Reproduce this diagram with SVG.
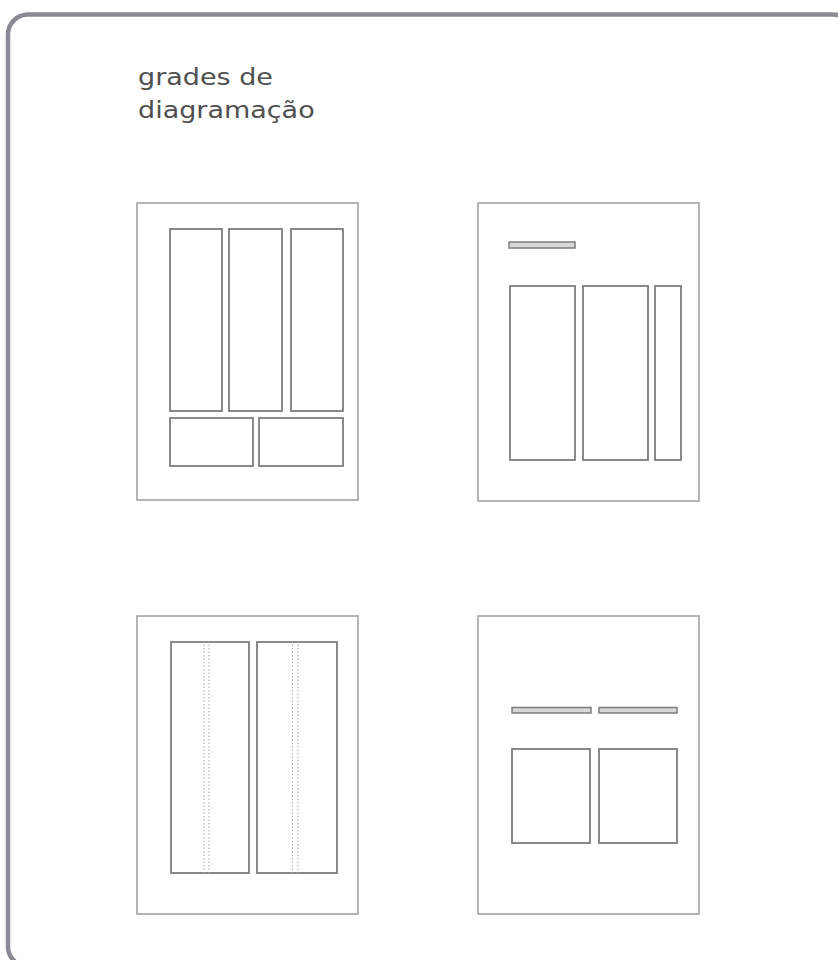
<svg xmlns="http://www.w3.org/2000/svg" width="838" height="960" viewBox="0 0 838 960">
  <style>
    .frame { fill: #ffffff; stroke: #8a8a95; stroke-width: 4.5; }
    .page { fill: #ffffff; stroke: #a3a3a3; stroke-width: 1.6; }
    .box { fill: #ffffff; stroke: #7d7d7d; stroke-width: 1.8; }
    .bar { fill: #d8d8d8; stroke: #7d7d7d; stroke-width: 1.5; }
    .dots { stroke: #a8a8a8; stroke-width: 1; stroke-dasharray: 1.5 2; fill: none; }
    .title { font-family: "DejaVu Sans", Verdana, sans-serif; font-size: 22.5px; fill: #505050; }
  </style>
  <rect x="0" y="0" width="838" height="960" fill="#ffffff"/>
  <rect class="frame" x="8" y="14.5" width="845" height="952" rx="20" ry="20"/>

  <g id="title" transform="translate(138,0) scale(1.2,1)">
    <text class="title" x="0" y="85.5">grades de</text>
    <text class="title" x="0" y="118.5">diagramação</text>
  </g>

  <g id="page1">
    <rect class="page" x="137" y="203" width="221" height="297"/>
    <rect class="box" x="170" y="229" width="52" height="182"/>
    <rect class="box" x="229" y="229" width="53" height="182"/>
    <rect class="box" x="291" y="229" width="52" height="182"/>
    <rect class="box" x="170" y="418" width="83" height="48"/>
    <rect class="box" x="259" y="418" width="84" height="48"/>
  </g>

  <g id="page2">
    <rect class="page" x="478" y="203" width="221" height="298"/>
    <rect class="bar" x="509" y="242" width="66" height="6"/>
    <rect class="box" x="510" y="286" width="65" height="174"/>
    <rect class="box" x="583" y="286" width="65" height="174"/>
    <rect class="box" x="655" y="286" width="26" height="174"/>
  </g>

  <g id="page3">
    <rect class="page" x="137" y="616" width="221" height="298"/>
    <rect class="box" x="171" y="642" width="78" height="231"/>
    <rect class="box" x="257" y="642" width="80" height="231"/>
    <line class="dots" x1="204" y1="641" x2="204" y2="875"/>
    <line class="dots" x1="209" y1="641" x2="209" y2="875"/>
    <line class="dots" x1="292.5" y1="641" x2="292.5" y2="875"/>
    <line class="dots" x1="298" y1="641" x2="298" y2="875"/>
  </g>

  <g id="page4">
    <rect class="page" x="478" y="616" width="221" height="298"/>
    <rect class="bar" x="512" y="707.5" width="79" height="5.5"/>
    <rect class="bar" x="599" y="707.5" width="78" height="5.5"/>
    <rect class="box" x="512" y="749" width="78" height="94"/>
    <rect class="box" x="599" y="749" width="78" height="94"/>
  </g>

  <g id="connectors"></g>
</svg>
